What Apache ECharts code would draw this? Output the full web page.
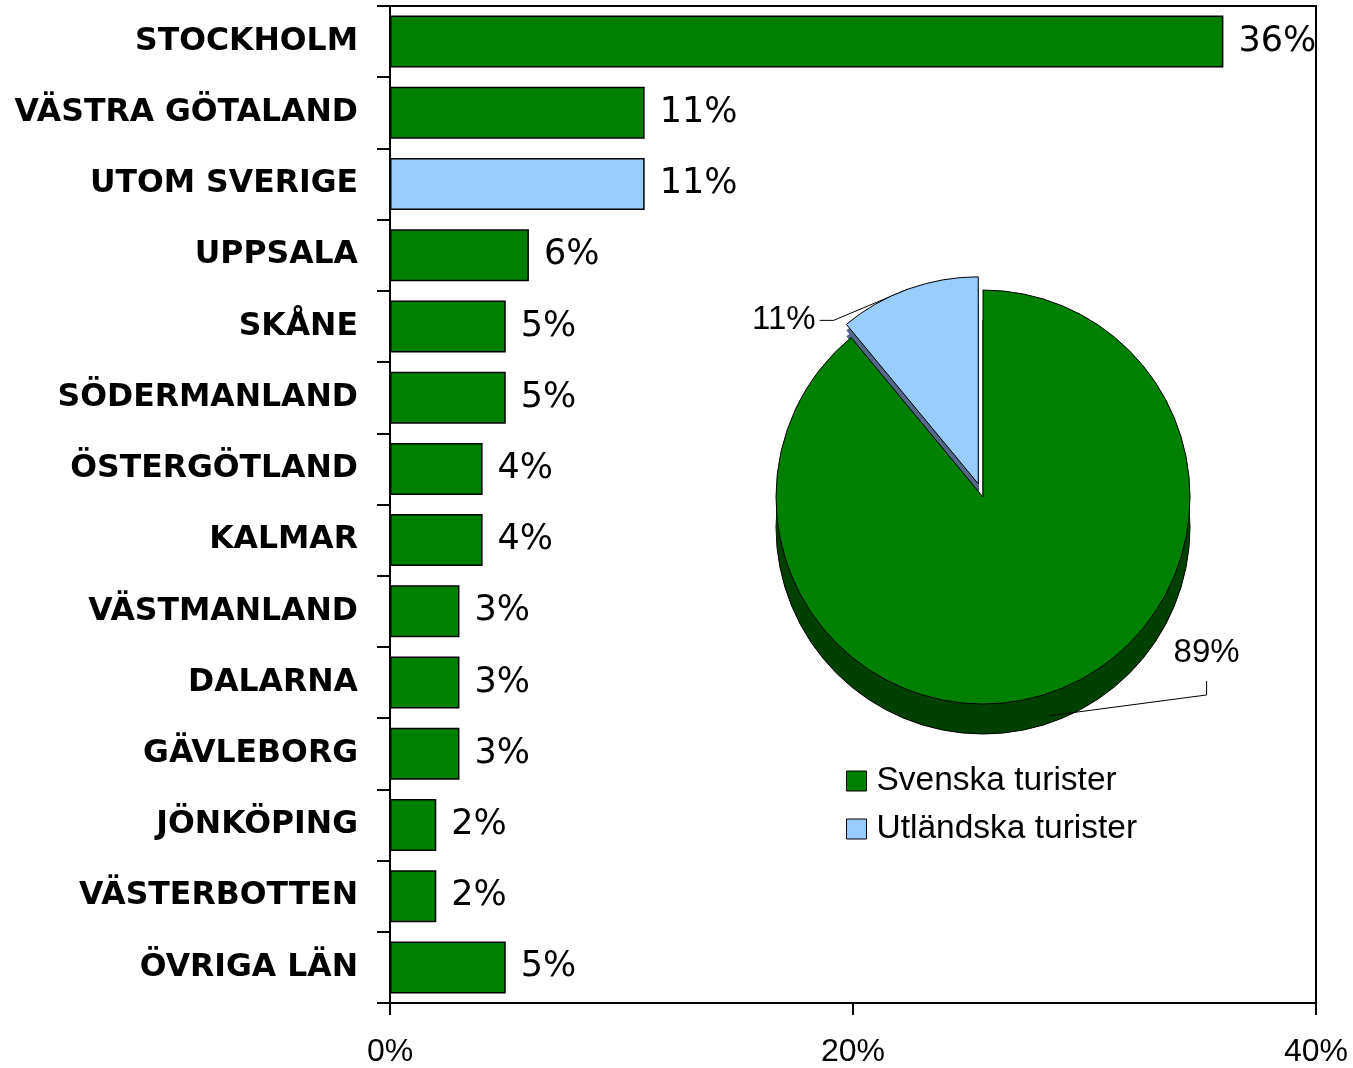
<!DOCTYPE html>
<html>
<head>
<meta charset="utf-8">
<script src="https://cdn.jsdelivr.net/npm/echarts@6/dist/echarts.min.js"></script>
<style>
html, body { margin: 0; padding: 0; background: #fff; }
#chart { width: 1353px; height: 1068px; }
</style>
</head>
<body>
<div id="chart"></div>
<script>
// bar chart: share of visitors by home region (percent)
var regions = ["STOCKHOLM", "VÄSTRA GÖTALAND", "UTOM SVERIGE", "UPPSALA", "SKÅNE",
    "SÖDERMANLAND", "ÖSTERGÖTLAND", "KALMAR", "VÄSTMANLAND", "DALARNA",
    "GÄVLEBORG", "JÖNKÖPING", "VÄSTERBOTTEN", "ÖVRIGA LÄN"];
var shares = [36, 11, 11, 6, 5, 5, 4, 4, 3, 3, 3, 2, 2, 5];
var xTicks = [0, 20, 40];

// inset pie
var pieNames = ["Svenska turister", "Utländska turister"];
var pieValues = [89, 11];

var font = "Liberation Sans, Arial, sans-serif";
var wideFont = "DejaVu Sans, Verdana, sans-serif";
var green = "#008000";
var blue = "#99CCFF";
var pieSide = ["#004000", "#52698A"];
var rimDepth = 30;

var chart = echarts.init(document.getElementById("chart"));

function pieData() {
    return pieNames.map(function (n, i) {
        return { name: n, value: pieValues[i], selected: i === 1 };
    });
}

// stacked copies of the pie, shifted down, give the 3d rim
var depthSeries = [];
[30, 24, 18, 12, 6].forEach(function (dy, k) {
    depthSeries.push({
        type: "pie",
        z: 2 + k,
        silent: true,
        center: [983, 497 + dy],
        radius: 207,
        startAngle: 90,
        selectedMode: "single",
        selectedOffset: 14,
        label: { show: false },
        labelLine: { show: false },
        itemStyle: {
            color: function (p) { return pieSide[p.dataIndex]; },
            borderColor: dy === rimDepth ? "#000" : "rgba(0,0,0,0)",
            borderWidth: 1
        },
        data: pieData()
    });
});

// move the pie labels like the original and redraw their leader lines
function pieLabelLayout(p) {
    var r = p.labelRect;
    var start = p.labelLinePoints ? p.labelLinePoints[0] : [r.x, r.y];
    if (p.dataIndex === 1) {
        var dx = -62, dy = 52;
        var midY = r.y + dy + r.height / 2;
        var right = r.x + dx + r.width;
        return {
            dx: dx, dy: dy,
            labelLinePoints: [start, [right + 18, midY], [right + 4, midY]]
        };
    }
    var dx0 = 90, dy0 = -60;
    var cx = r.x + dx0 + r.width / 2;
    var bottom = r.y + dy0 + r.height;
    return {
        dx: dx0, dy: dy0,
        labelLinePoints: [[start[0] - 4, start[1] + rimDepth - 6], [cx, bottom + 26], [cx, bottom + 12]]
    };
}

var option = {
    animation: false,
    backgroundColor: "#fff",
    grid: { left: 390, right: 37, top: 6, bottom: 63 },
    xAxis: [{
        type: "value",
        min: xTicks[0],
        max: xTicks[xTicks.length - 1],
        interval: xTicks[1] - xTicks[0],
        splitLine: { show: false },
        axisLine: { show: true, lineStyle: { color: "#000", width: 2 } },
        axisTick: { show: true, length: 12, lineStyle: { color: "#000", width: 2 } },
        axisLabel: { formatter: "{value}%", fontFamily: font, fontSize: 32, color: "#000", margin: 33 }
    }, {
        type: "value",
        position: "top",
        min: xTicks[0],
        max: xTicks[xTicks.length - 1],
        splitLine: { show: false },
        axisLine: { show: true, onZero: false, lineStyle: { color: "#000", width: 2 } },
        axisTick: { show: false },
        axisLabel: { show: false }
    }],
    yAxis: [{
        type: "category",
        inverse: true,
        data: regions,
        axisLine: { show: true, lineStyle: { color: "#000", width: 2 } },
        axisTick: { show: true, length: 13, lineStyle: { color: "#000", width: 2 } },
        axisLabel: { fontFamily: wideFont, fontSize: 31.5, fontWeight: "bold", color: "#000", margin: 32 }
    }, {
        type: "category",
        inverse: true,
        position: "right",
        data: regions,
        axisLine: { show: true, onZero: false, lineStyle: { color: "#000", width: 2 } },
        axisTick: { show: false },
        axisLabel: { show: false }
    }],
    legend: {
        orient: "vertical",
        left: 841,
        top: 758,
        itemWidth: 20,
        itemHeight: 20,
        itemGap: 12,
        icon: "rect",
        textStyle: { fontFamily: font, fontSize: 33.5, color: "#000", lineHeight: 36, padding: [0, 0, 0, 5] },
        data: [
            { name: pieNames[0], itemStyle: { color: green, borderColor: "#000", borderWidth: 1 } },
            { name: pieNames[1], itemStyle: { color: blue, borderColor: "#000", borderWidth: 1 } }
        ]
    },
    series: [{
        type: "pie",
        z: 10,
        center: [983, 497],
        radius: 207,
        startAngle: 90,
        selectedMode: "single",
        selectedOffset: 14,
        itemStyle: {
            color: function (p) { return p.dataIndex === 0 ? green : blue; },
            borderColor: "#000",
            borderWidth: 1
        },
        label: {
            show: true,
            position: "outside",
            formatter: "{d}%",
            fontFamily: font,
            fontSize: 33,
            color: "#000"
        },
        labelLine: {
            show: true,
            length: 22,
            length2: 18,
            lineStyle: { color: "#000", width: 1 }
        },
        labelLayout: pieLabelLayout,
        data: pieData()
    }].concat(depthSeries).concat([{
        type: "bar",
        z: 3,
        data: shares,
        barWidth: "73%",
        itemStyle: {
            color: function (p) { return p.name === "UTOM SVERIGE" ? blue : green; },
            borderColor: "#000",
            borderWidth: 1.5
        },
        label: {
            show: true,
            position: "right",
            distance: 15,
            formatter: "{c}%",
            fontFamily: wideFont,
            fontSize: 35,
            color: "#000"
        }
    }])
};

chart.setOption(option);
</script>
</body>
</html>
